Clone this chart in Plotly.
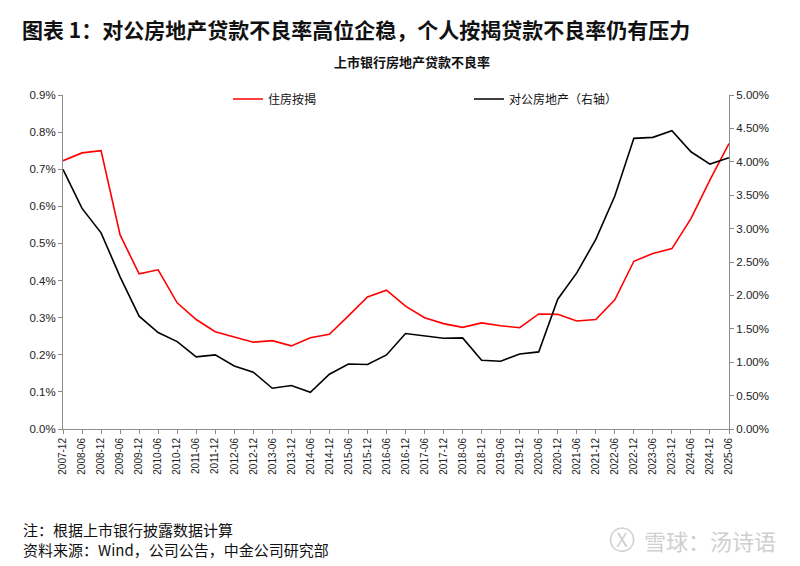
import plotly.graph_objects as go

periods = ["2007-12"] + [f"{y}-{m}" for y in range(2008, 2025) for m in ("06", "12")] + ["2025-06"]

mortgage_npl = [0.723, 0.744, 0.750, 0.523, 0.418, 0.429, 0.340, 0.295, 0.262, 0.248,
                0.234, 0.238, 0.224, 0.246, 0.255, 0.305, 0.356, 0.374, 0.331, 0.300,
                0.284, 0.274, 0.286, 0.278, 0.273, 0.310, 0.309, 0.291, 0.295, 0.348,
                0.452, 0.473, 0.486, 0.567, 0.671, 0.769]

corp_re_npl = [3.887, 3.302, 2.937, 2.278, 1.689, 1.444, 1.309, 1.079, 1.109, 0.944,
               0.850, 0.610, 0.650, 0.550, 0.820, 0.974, 0.965, 1.109, 1.429, 1.389,
               1.359, 1.364, 1.029, 1.014, 1.124, 1.154, 1.943, 2.337, 2.838, 3.487,
               4.351, 4.366, 4.465, 4.150, 3.966, 4.061]

left_ticks = [i / 10 for i in range(10)]
right_ticks = [i * 0.5 for i in range(11)]

FONT = "Liberation Sans, Arial, Noto Sans CJK SC"
CJK = "Noto Sans CJK SC, Liberation Sans"

L, R, T, B = 63, 71, 95, 137
PW, PH = 800 - L - R, 566 - T - B


def px(x):
    return (x - L) / PW


def py(y):
    return (566 - B - y) / PH


fig = go.Figure()
fig.add_trace(go.Scatter(x=periods, y=mortgage_npl, name="住房按揭", mode="lines",
                         line=dict(color="#ff0000", width=1.6)))
fig.add_trace(go.Scatter(x=periods, y=corp_re_npl, name="对公房地产（右轴）", mode="lines",
                         line=dict(color="#000000", width=1.6), yaxis="y2"))

axis_common = dict(showgrid=False, zeroline=False, showline=True, linecolor="#8c8c8c",
                   linewidth=1, ticks="outside", tickcolor="#8c8c8c", ticklen=4,
                   automargin=False)
tf_y = dict(family=FONT, size=11.5, color="#222")
tf_x = dict(family=FONT, size=10, color="#222")

fig.update_layout(
    width=800, height=566,
    margin=dict(l=L, r=R, t=T, b=B),
    paper_bgcolor="white", plot_bgcolor="white",
    font=dict(family=CJK, color="#222"),
    xaxis=dict(**axis_common, tickangle=-90, type="category",
               range=[0, len(periods) - 1], tickfont=tf_x),
    yaxis=dict(**axis_common, range=[0, 0.9], tickvals=left_ticks,
               ticktext=[f"{v:.1f}%" for v in left_ticks], tickfont=tf_y),
    yaxis2=dict(**axis_common, range=[0, 5], tickvals=right_ticks,
                ticktext=[f"{v:.2f}%" for v in right_ticks], tickfont=tf_y,
                overlaying="y", side="right"),
    legend=dict(orientation="h", x=px(228), y=py(99), xanchor="left", yanchor="middle",
                entrywidth=196, entrywidthmode="pixels",
                font=dict(family=CJK, size=12, color="#111"),
                bgcolor="rgba(0,0,0,0)", tracegroupgap=0),
    showlegend=True,
)

fig.add_annotation(text="<b>图表 1：对公房地产贷款不良率高位企稳，个人按揭贷款不良率仍有压力</b>",
                   xref="paper", yref="paper", x=px(20), y=py(29),
                   xanchor="left", yanchor="middle", showarrow=False,
                   font=dict(family=CJK, size=21, color="#111"))
fig.add_annotation(text="<b>上市银行房地产贷款不良率</b>",
                   xref="paper", yref="paper", x=px(412), y=py(62),
                   xanchor="center", yanchor="middle", showarrow=False,
                   font=dict(family=CJK, size=13, color="#111"))
fig.add_annotation(text="注：根据上市银行披露数据计算",
                   xref="paper", yref="paper", x=px(21), y=py(529),
                   xanchor="left", yanchor="middle", showarrow=False,
                   font=dict(family=CJK, size=15, color="#111"))
fig.add_annotation(text="资料来源：Wind，公司公告，中金公司研究部",
                   xref="paper", yref="paper", x=px(21), y=py(549),
                   xanchor="left", yanchor="middle", showarrow=False,
                   font=dict(family=CJK, size=15, color="#111"))
fig.add_annotation(text="雪球：汤诗语",
                   xref="paper", yref="paper", x=px(778), y=py(540),
                   xanchor="right", yanchor="middle", showarrow=False,
                   font=dict(family=CJK, size=22, color="#cfcfcf"))
fig.add_annotation(text="Ⓧ",
                   xref="paper", yref="paper", x=px(622), y=py(540),
                   xanchor="center", yanchor="middle", showarrow=False,
                   font=dict(family="DejaVu Sans", size=26, color="#cfcfcf"))

fig.write_html("out.html", config={"displayModeBar": False},
               post_script="document.body.style.margin='0';document.body.style.padding='0';")
